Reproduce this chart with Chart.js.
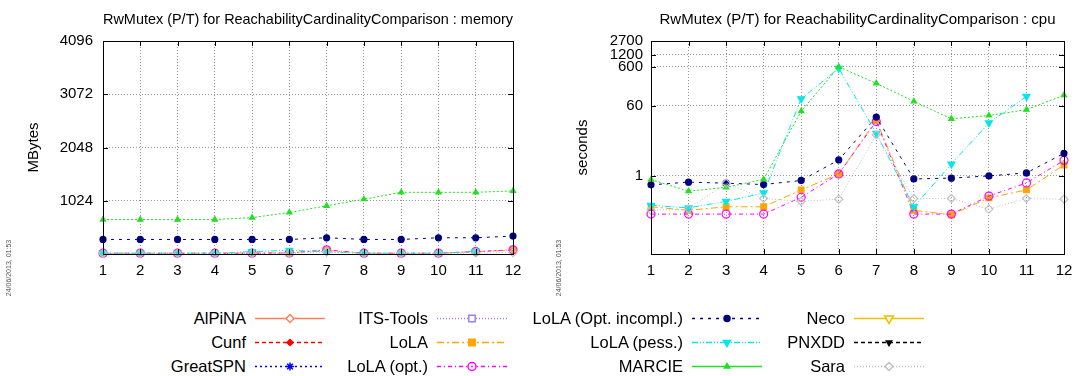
<!DOCTYPE html>
<html>
<head>
<meta charset="utf-8">
<script src="https://cdn.jsdelivr.net/npm/chart.js@4.4.1/dist/chart.umd.min.js"></script>
<style>
html,body{margin:0;padding:0;background:#fff;}
body{width:1081px;height:376px;position:relative;overflow:hidden;font-family:"Liberation Sans",Arial,sans-serif;}
.panel{position:absolute;top:0;height:290px;}
.stamp{position:absolute;font-size:7px;color:#555;white-space:nowrap;transform:rotate(-90deg);transform-origin:center center;width:70px;text-align:center;line-height:8px;}
.lg-text{position:absolute;width:220px;text-align:right;font-size:16.5px;line-height:20px;color:#000;white-space:nowrap;}
.lg-sample{position:absolute;}
</style>
</head>
<body>
<div class="panel" style="left:0;width:540px"><canvas id="memChart"></canvas></div>
<div class="panel" style="left:540px;width:541px"><canvas id="cpuChart"></canvas></div>
<div class="stamp" style="left:-26px;top:264px">24/06/2013, 01:53</div>
<div class="stamp" style="left:524px;top:264px">24/06/2013, 01:53</div>
<div id="legend"></div>
<script>
/* ============================================================
   DATA
   ============================================================ */
var xLabels=['1','2','3','4','5','6','7','8','9','10','11','12'];
var memTickValues=[1024,2048,3072,4096];
var cpuTickValues=[1,60,600,1200,2700];
var seriesNames=['AlPiNA','Cunf','GreatSPN','ITS-Tools','LoLA','LoLA (opt.)','LoLA (Opt. incompl.)','LoLA (pess.)','MARCIE','Neco','PNXDD','Sara'];

/* memory, MBytes */
var memAlpina=[];
var memCunf=[];
var memGreatspn=[];
var memItstools=[];
var memLola=[15,15,15,15,18,22,70,15,15,15,45,75];
var memLolaOpt=[15,15,15,15,15,20,80,15,15,15,48,80];
var memLolaIncompl=[280,280,280,280,280,280,312,280,280,312,312,345];
var memLolaPess=[15,15,15,15,45,72,40,15,15,15,50,null];
var memMarcie=[662,662,662,662,700,798,927,1053,1186,1186,1186,1214];
var memNeco=[];
var memPnxdd=[];
var memSara=[12,12,12,12,12,12,40,12,12,12,20,25];

/* cpu, seconds */
var cpuAlpina=[];
var cpuCunf=[];
var cpuGreatspn=[];
var cpuItstools=[];
var cpuLola=[0.16,0.13,0.16,0.16,0.43,1.1,26,0.13,0.10,0.27,0.43,1.86];
var cpuLolaOpt=[0.104,0.104,0.104,0.104,0.28,1.1,24,0.104,0.104,0.30,0.65,2.44];
var cpuLolaIncompl=[0.58,0.68,0.64,0.59,0.75,2.5,31,0.82,0.86,0.98,1.17,3.7];
var cpuLolaPess=[0.175,0.15,0.22,0.36,91,540,12,0.16,1.97,22,104,null];
var cpuMarcie=[0.79,0.40,0.50,0.80,44,593,225,78,28,34,48,112];
var cpuNeco=[];
var cpuPnxdd=[];
var cpuSara=[0.13,0.14,0.64,0.26,0.22,0.25,11,0.26,0.26,0.14,0.26,0.25];

var memSeries=[memAlpina,memCunf,memGreatspn,memItstools,memLola,memLolaOpt,memLolaIncompl,memLolaPess,memMarcie,memNeco,memPnxdd,memSara];
var cpuSeries=[cpuAlpina,cpuCunf,cpuGreatspn,cpuItstools,cpuLola,cpuLolaOpt,cpuLolaIncompl,cpuLolaPess,cpuMarcie,cpuNeco,cpuPnxdd,cpuSara];

/* ============================================================
   STYLES (gnuplot look)
   ============================================================ */
var STY=[
    {c:'#ff8060',dash:[],ldash:[],ps:'rectRot',r:4,fill:false},
    {c:'#ff0000',dash:[4,3],ldash:[4,3],ps:'rectRot',r:3,fill:true},
    {c:'#0000ff',dash:[2,3],ldash:[2,3],ps:'star',r:4,fill:false},
    {c:'#a080f0',dash:[1,2],ldash:[1,2],ps:'rect',r:4,fill:false},
    {c:'#ffa500',dash:[7,3,2,3],ldash:[7,3,2,3],ps:'rect',r:4,fill:true},
    {c:'#ff00ff',dash:[4,3,1,3],ldash:[4,3,1,3],ps:'circle',r:4,fill:false},
    {c:'#000080',dash:[3,5],ldash:[3,5],ps:'circle',r:3,fill:true},
    {c:'#00e8e8',dash:[6,2,1,2,1,2],ldash:[6,2,1,2,1,2],ps:'triangle',rot:180,r:4,fill:true},
    {c:'#22e022',dash:[2,2],ldash:[],ps:'triangle',r:3,fill:true},
    {c:'#f0c000',dash:[],ldash:[],ps:'triangle',rot:180,r:5,fill:false},
    {c:'#000000',dash:[4,3],ldash:[4,3],ps:'triangle',rot:180,r:3,fill:true},
    {c:'#c0c0c0',dash:[1,2],ldash:[1,2],ps:'rectRot',r:4,fill:false}
];

var FONT='"Liberation Sans", Arial, sans-serif';
Chart.defaults.font.family=FONT;
Chart.defaults.color='#000';

function buildDatasets(series){
    return series.map(function(d,i){
        var s=STY[i];
        return {label:seriesNames[i],data:d,borderColor:s.c,borderWidth:1,borderDash:s.dash,
            pointStyle:s.ps,pointRotation:s.rot||0,pointRadius:s.r,pointHoverRadius:s.r,
            pointBorderColor:s.c,pointBorderWidth:1.2,pointBackgroundColor:s.fill?s.c:'rgba(255,255,255,0)',
            fill:false,tension:0,spanGaps:false,clip:false,order:-i};
    });
}

/* frame + inward ticks, like gnuplot border */
var framePlugin={id:'frame',afterDatasetsDraw:function(c){
    var a=c.chartArea,ctx=c.ctx;
    ctx.save();ctx.strokeStyle='#000';ctx.lineWidth=1;ctx.setLineDash([]);
    ctx.strokeRect(Math.round(a.left)+0.5,Math.round(a.top)+0.5,Math.round(a.right-a.left),Math.round(a.bottom-a.top));
    ctx.beginPath();
    c.scales.x.ticks.forEach(function(t,k){var px=Math.round(c.scales.x.getPixelForTick(k))+0.5;
        ctx.moveTo(px,a.bottom);ctx.lineTo(px,a.bottom-5);ctx.moveTo(px,a.top);ctx.lineTo(px,a.top+5);});
    c.scales.y.ticks.forEach(function(t){var py=Math.round(c.scales.y.getPixelForValue(t.value))+0.5;
        ctx.moveTo(a.left,py);ctx.lineTo(a.left+5,py);ctx.moveTo(a.right,py);ctx.lineTo(a.right-5,py);});
    ctx.stroke();ctx.restore();
}};

function makeChart(id,series,opt){
    return new Chart(document.getElementById(id),{
        type:'line',
        data:{labels:xLabels,datasets:buildDatasets(series)},
        plugins:[framePlugin],
        options:{
            responsive:true,maintainAspectRatio:false,animation:false,
            layout:{padding:{left:0,right:opt.padRight,top:0,bottom:0}},
            plugins:{
                legend:{display:false},tooltip:{enabled:false},
                title:{display:true,text:opt.title,fullSize:false,color:'#000',font:{size:15,weight:'normal'},padding:{top:11,bottom:12}}
            },
            scales:{
                x:{type:'category',offset:false,
                    grid:{color:'rgba(60,60,60,0.55)',lineWidth:1,drawTicks:false},
                    border:{display:false,dash:[1,2]},
                    ticks:{padding:8,font:{size:15},maxRotation:0,autoSkip:false},
                    afterFit:function(s){s.height=36;}},
                y:opt.y
            }
        }
    });
}

function yGrid(){return {color:'rgba(60,60,60,0.55)',lineWidth:1,drawTicks:false};}

var memChart=makeChart('memChart',memSeries,{
    title:'RwMutex (P/T) for ReachabilityCardinalityComparison : memory',padRight:27,
    y:{type:'linear',min:0,max:4096,grid:yGrid(),border:{display:false,dash:[1,2]},
        title:{display:true,text:'MBytes',font:{size:15},padding:{top:25,bottom:0}},
        ticks:{padding:10,font:{size:15},autoSkip:false,callback:function(v){return String(v);}},
        afterBuildTicks:function(s){s.ticks=memTickValues.map(function(v){return {value:v};});},
        afterFit:function(s){s.width=103;}}
});

var cpuChart=makeChart('cpuChart',cpuSeries,{
    title:'RwMutex (P/T) for ReachabilityCardinalityComparison : cpu',padRight:17,
    y:{type:'logarithmic',min:0.01,max:2700,grid:yGrid(),border:{display:false,dash:[1,2]},
        title:{display:true,text:'seconds',font:{size:15},padding:{top:34,bottom:0}},
        ticks:{padding:8,font:{size:15},autoSkip:false,callback:function(v){return String(v);}},
        afterBuildTicks:function(s){s.ticks=cpuTickValues.map(function(v){return {value:v};});},
        afterFit:function(s){s.width=111;}}
});

/* ============================================================
   LEGEND (shared, below the panels)
   ============================================================ */
var LG_COL_RIGHT=[246,428,683,845];
var LG_ROW_Y=[318,342,366];
var LG_SAMPLE_W=70;

function drawMarker(ctx,s,x,y){
    var r=s.r;ctx.save();ctx.translate(x,y);if(s.rot)ctx.rotate(s.rot*Math.PI/180);
    ctx.beginPath();
    if(s.ps==='circle'){ctx.arc(0,0,r,0,Math.PI*2);}
    else if(s.ps==='rect'){ctx.rect(-r*0.8,-r*0.8,r*1.6,r*1.6);}
    else if(s.ps==='rectRot'){ctx.moveTo(0,-r);ctx.lineTo(r,0);ctx.lineTo(0,r);ctx.lineTo(-r,0);ctx.closePath();}
    else if(s.ps==='triangle'){ctx.moveTo(0,-r);ctx.lineTo(r*0.87,r*0.5);ctx.lineTo(-r*0.87,r*0.5);ctx.closePath();}
    else if(s.ps==='star'){for(var k=0;k<4;k++){var a=k*Math.PI/4;ctx.moveTo(-r*Math.cos(a),-r*Math.sin(a));ctx.lineTo(r*Math.cos(a),r*Math.sin(a));}}
    ctx.setLineDash([]);ctx.strokeStyle=s.c;ctx.lineWidth=1.5;
    if(s.fill&&s.ps!=='star'){ctx.fillStyle=s.c;ctx.fill();}
    else if(s.ps!=='star'){ctx.fillStyle='#fff';ctx.fill();}
    ctx.stroke();
    if(s.ps==='circle'&&!s.fill){ctx.beginPath();ctx.arc(0,0,1,0,Math.PI*2);ctx.fillStyle=s.c;ctx.fill();}
    ctx.restore();
}

function renderLegend(){
    var host=document.getElementById('legend');
    seriesNames.forEach(function(name,i){
        var col=Math.floor(i/3),row=i%3,s=STY[i];
        var t=document.createElement('div');t.className='lg-text';t.textContent=name;
        t.style.left=(LG_COL_RIGHT[col]-220)+'px';t.style.top=(LG_ROW_Y[row]-10)+'px';
        host.appendChild(t);
        var cv=document.createElement('canvas');cv.className='lg-sample';cv.width=LG_SAMPLE_W;cv.height=14;
        cv.style.left=(LG_COL_RIGHT[col]+9)+'px';cv.style.top=(LG_ROW_Y[row]-7)+'px';
        host.appendChild(cv);
        var ctx=cv.getContext('2d');
        ctx.strokeStyle=s.c;ctx.lineWidth=1.5;ctx.setLineDash(s.ldash);
        ctx.beginPath();ctx.moveTo(0,7.5);ctx.lineTo(LG_SAMPLE_W,7.5);ctx.stroke();
        drawMarker(ctx,s,LG_SAMPLE_W/2,7.5);
    });
}
renderLegend();
</script>
</body>
</html>
